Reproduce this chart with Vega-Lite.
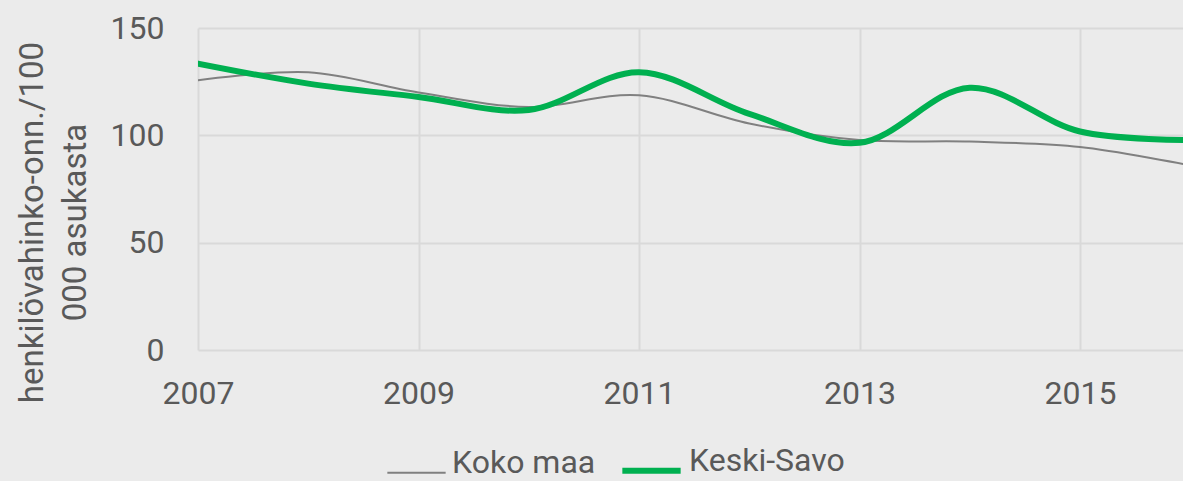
{
  "$schema": "https://vega.github.io/schema/vega-lite/v6.json",
  "autosize": {"type": "none"},
  "width": 985,
  "height": 322,
  "padding": {"left": 198, "top": 28, "right": 0, "bottom": 131},
  "background": "#ebebeb",
  "config": {
    "view": {"stroke": null},
    "font": "Roboto",
    "axis": {
      "labelFont": "Roboto",
      "titleFont": "Roboto",
      "labelColor": "#595959",
      "titleColor": "#595959",
      "labelFontSize": 32,
      "titleFontSize": 33,
      "titleFontWeight": "normal",
      "gridColor": "#d9d9d9",
      "gridWidth": 2,
      "domain": false,
      "ticks": false
    },
    "legend": {
      "labelFont": "Roboto",
      "labelFontSize": 32,
      "labelColor": "#595959"
    }
  },
  "data": {
    "values": [
      {"year": 2007, "series": "Koko maa", "value": 125.6},
      {"year": 2008, "series": "Koko maa", "value": 129.4},
      {"year": 2009, "series": "Koko maa", "value": 120.0},
      {"year": 2010, "series": "Koko maa", "value": 113.2},
      {"year": 2011, "series": "Koko maa", "value": 118.7},
      {"year": 2012, "series": "Koko maa", "value": 105.5},
      {"year": 2013, "series": "Koko maa", "value": 97.8},
      {"year": 2014, "series": "Koko maa", "value": 97.1},
      {"year": 2015, "series": "Koko maa", "value": 94.6},
      {"year": 2016, "series": "Koko maa", "value": 86.0},
      {"year": 2007, "series": "Keski-Savo", "value": 133.4},
      {"year": 2008, "series": "Keski-Savo", "value": 124.1},
      {"year": 2009, "series": "Keski-Savo", "value": 117.9},
      {"year": 2010, "series": "Keski-Savo", "value": 111.8},
      {"year": 2011, "series": "Keski-Savo", "value": 129.4},
      {"year": 2012, "series": "Keski-Savo", "value": 110.0},
      {"year": 2013, "series": "Keski-Savo", "value": 96.5},
      {"year": 2014, "series": "Keski-Savo", "value": 122.2},
      {"year": 2015, "series": "Keski-Savo", "value": 101.8},
      {"year": 2016, "series": "Keski-Savo", "value": 97.8}
    ]
  },
  "mark": {"type": "line", "interpolate": "catmull-rom", "clip": true, "strokeCap": "round"},
  "encoding": {
    "x": {
      "field": "year",
      "type": "quantitative",
      "scale": {"domain": [2007, 2015.934], "nice": false, "zero": false},
      "axis": {
        "values": [2007, 2009, 2011, 2013, 2015],
        "format": "d",
        "title": null,
        "labelPadding": 28,
        "labelFlush": false
      }
    },
    "y": {
      "field": "value",
      "type": "quantitative",
      "scale": {"domain": [0, 150], "nice": false},
      "axis": {
        "values": [0, 50, 100, 150],
        "title": ["henkilövahinko-onn./100", "000 asukasta"],
        "labelPadding": 34,
        "titlePadding": 18,
        "titleY": 194,
        "titleLineHeight": 43
      }
    },
    "color": {
      "field": "series",
      "type": "nominal",
      "scale": {"domain": ["Koko maa", "Keski-Savo"], "range": ["#808080", "#00b050"]},
      "legend": {
        "title": null,
        "orient": "none",
        "direction": "horizontal",
        "legendX": 188,
        "legendY": 410,
        "symbolType": "stroke",
        "symbolSize": 3400,
        "labelBaseline": "alphabetic",
        "labelOffset": 5,
        "columnPadding": 14
      }
    },
    "strokeWidth": {
      "field": "series",
      "type": "nominal",
      "scale": {"domain": ["Koko maa", "Keski-Savo"], "range": [2, 6]},
      "legend": {
        "title": null,
        "orient": "none",
        "direction": "horizontal",
        "legendX": 188,
        "legendY": 410,
        "symbolType": "stroke",
        "symbolSize": 3400,
        "labelBaseline": "alphabetic",
        "labelOffset": 5,
        "columnPadding": 14
      }
    }
  }
}
